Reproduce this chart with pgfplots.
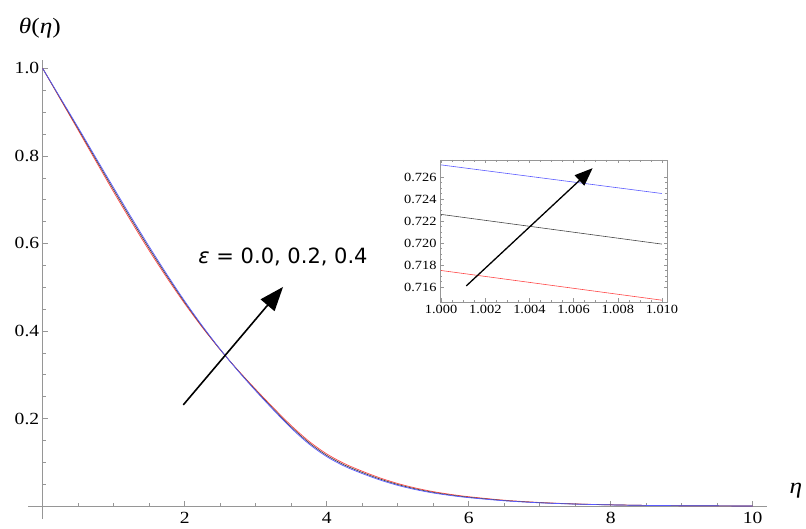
\documentclass[border=0pt]{standalone}
\usepackage{fontspec}
\setmainfont{Liberation Serif}[FakeStretch=1.15]
\newfontfamily\labsans{DejaVu Sans}
\newfontfamily\titleserif{Liberation Serif}[FakeStretch=1.15]
\usepackage{pgfplots}
\usepackage{pgfplotstable}
\pgfplotsset{compat=1.18}
\usetikzlibrary{arrows.meta}
\definecolor{cred}{RGB}{255,70,70}
\definecolor{cblk}{RGB}{70,70,70}
\definecolor{cblu}{RGB}{90,90,255}
\definecolor{axgray}{RGB}{150,150,150}

\pgfplotstableread{
eta   black   blue    red
0     1.0000  1.0000  1.0000
0.25  0.9310  0.9324  0.9294
0.5   0.8620  0.8647  0.8588
0.75  0.7920  0.7956  0.7878
1.0   0.7226  0.7270  0.7175
1.25  0.6546  0.6591  0.6494
1.5   0.5886  0.5929  0.5836
1.75  0.5256  0.5292  0.5214
2.0   0.4656  0.4683  0.4625
2.25  0.4096  0.4112  0.4077
2.5   0.3576  0.3581  0.3571
2.75  0.3096  0.3089  0.3104
3.0   0.2646  0.2630  0.2665
3.25  0.2216  0.2194  0.2242
3.5   0.1806  0.1779  0.1838
3.75  0.1446  0.1417  0.1480
4.0   0.1156  0.1127  0.1190
4.25  0.0936  0.0909  0.0968
4.5   0.0766  0.0741  0.0795
4.75  0.0616  0.0594  0.0642
5.0   0.0491  0.0471  0.0514
5.25  0.0391  0.0374  0.0411
5.5   0.0311  0.0297  0.0328
5.75  0.0250  0.0238  0.0264
6.0   0.0200  0.0190  0.0212
6.5   0.0125  0.0119  0.0132
7.0   0.0076  0.0072  0.0080
7.5   0.0045  0.0043  0.0047
8.0   0.0026  0.0025  0.0027
8.5   0.0013  0.0013  0.0013
9.0   0.0007  0.0007  0.0007
9.5   0.0003  0.0003  0.0003
10.0  0.0000  0.0000  0.0000
}\curves

\pgfplotsset{/pgf/number format/assume math mode=true}

\begin{document}
\begin{tikzpicture}
\useasboundingbox (-28.5pt,-8.9pt) rectangle (777.5pt,519.1pt);
\begin{axis}[
  at={(0,0)}, anchor=south west,
  scale only axis, width=738.4pt, height=459.4pt,
  xmin=-0.2, xmax=10.2, ymin=-0.03, ymax=1.02,
  axis lines=middle,
  axis line style={draw=axgray, line width=0.8pt, -},
  tick style={draw=axgray, line width=0.6pt},
  tick align=inside,
  major tick length=5pt, minor tick length=3pt,
  xtick={2,4,6,8,10},
  ytick={0.2,0.4,0.6,0.8,1.0},
  minor xtick={0.5,1,1.5,2.5,3,3.5,4.5,5,5.5,6.5,7,7.5,8.5,9,9.5},
  minor ytick={0.05,0.1,0.15,0.25,0.3,0.35,0.45,0.5,0.55,0.65,0.7,0.75,0.85,0.9,0.95},
  yticklabel style={/pgf/number format/fixed,/pgf/number format/fixed zerofill,/pgf/number format/precision=1},
  ticklabel style={font=\fontsize{17}{20}\selectfont},
  xticklabel style={yshift=-3pt},
  clip=false,
]
\addplot[cred, line width=0.7pt, smooth] table[x=eta,y=red]{\curves};
\addplot[cblk, line width=0.7pt, smooth] table[x=eta,y=black]{\curves};
\addplot[cblu, line width=0.7pt, smooth] table[x=eta,y=blue]{\curves};
\node[font=\titleserif\fontsize{22}{24}\selectfont] at (axis cs:-0.04,1.0926) {\textit{θ}(\textit{η})};
\node[font=\titleserif\fontsize{22}{24}\selectfont] at (axis cs:10.61,0.034) {\textit{η}};
\node[font=\labsans\fontsize{21}{24}\selectfont] at (axis cs:3.385,0.569) {{\itshape ε} = 0.0, 0.2, 0.4};
\draw[-{Triangle[length=24pt,width=18pt]}, line width=1.6pt, black] (axis cs:1.98,0.231) -- (axis cs:3.385,0.5006);
\coordinate (insetsw) at (axis cs:5.596,0.4663);
\end{axis}
\begin{axis}[
  at={(insetsw)}, anchor=south west,
  scale only axis, width=227pt, height=142pt,
  xmin=0.99995, xmax=1.01023, ymin=0.71464, ymax=0.72755,
  axis line style={draw=axgray, line width=0.6pt},
  tick style={draw=axgray, line width=0.5pt},
  tick align=inside,
  major tick length=3.5pt, minor tick length=2pt,
  xtick={1.000,1.002,1.004,1.006,1.008,1.010},
  ytick={0.716,0.718,0.720,0.722,0.724,0.726},
  minor x tick num=3, minor y tick num=3,
  xticklabel style={/pgf/number format/fixed,/pgf/number format/fixed zerofill,/pgf/number format/precision=3},
  yticklabel style={/pgf/number format/fixed,/pgf/number format/fixed zerofill,/pgf/number format/precision=3},
  scaled x ticks=false, scaled y ticks=false,
  ticklabel style={font=\fontsize{12.5}{14}\selectfont},
  clip=false,
]
\addplot[cred, line width=0.6pt] coordinates {(1.000,0.7175) (1.010,0.7148)};
\addplot[cblk, line width=0.6pt] coordinates {(1.000,0.7226) (1.010,0.7199)};
\addplot[cblu, line width=0.6pt] coordinates {(1.000,0.7271) (1.010,0.7245)};
\draw[-{Triangle[length=18pt,width=14pt]}, line width=1.3pt, black] (axis cs:1.00114,0.7161) -- (axis cs:1.00686,0.7268);
\end{axis}
\end{tikzpicture}
\end{document}
